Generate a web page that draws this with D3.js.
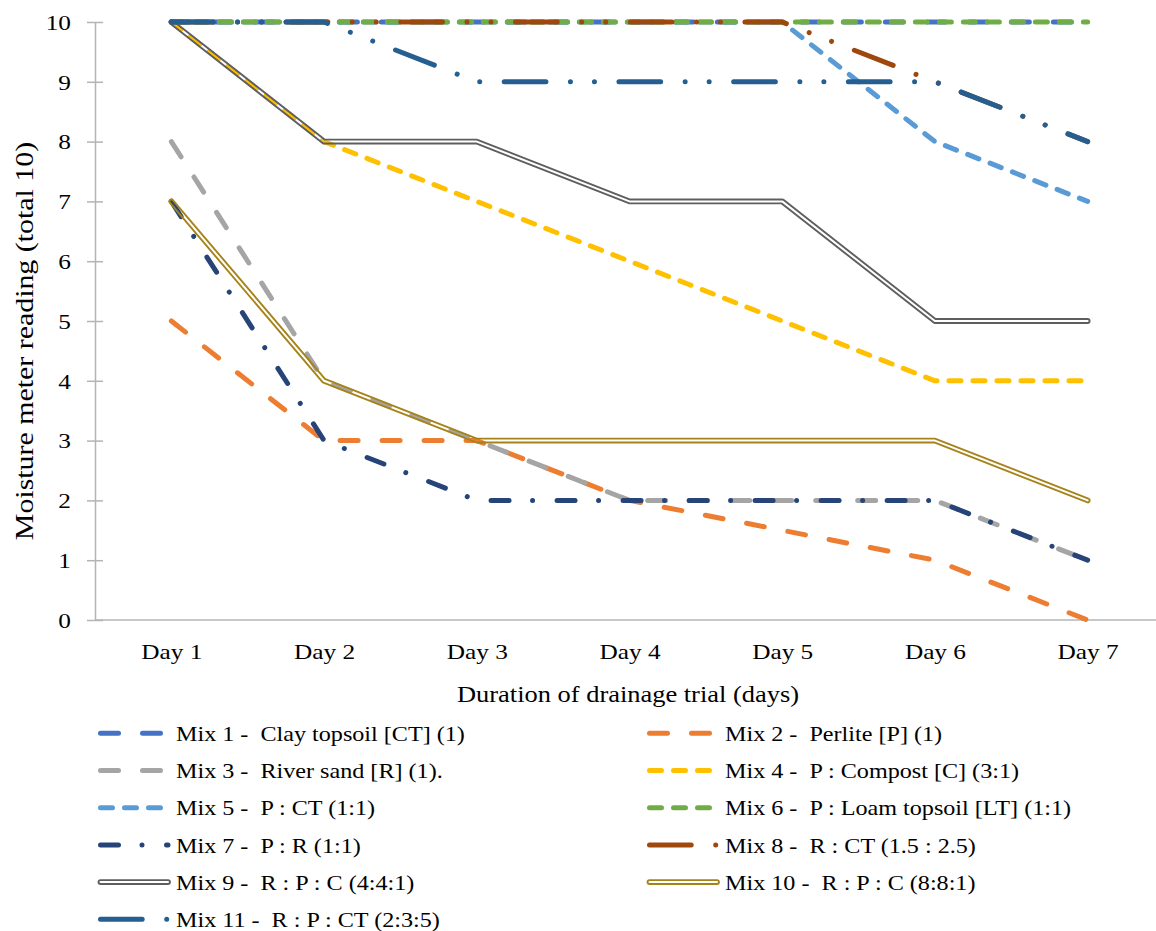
<!DOCTYPE html>
<html>
<head>
<meta charset="utf-8">
<script src="https://cdn.jsdelivr.net/npm/d3@7"></script>
<style>
  body { margin: 0; background: #fff; }
  text { font-family: "Liberation Serif", "Times New Roman", serif; fill: #000; white-space: pre; }
</style>
</head>
<body>
<div class="chart"></div>
<script>
// DATA ------------------------------------

const days = ["Day 1", "Day 2", "Day 3", "Day 4", "Day 5", "Day 6", "Day 7"];
const yTicks = [0, 1, 2, 3, 4, 5, 6, 7, 8, 9, 10];

const mixNames = [
    "Mix 1 -  Clay topsoil [CT] (1)",
    "Mix 2 -  Perlite [P] (1)",
    "Mix 3 -  River sand [R] (1).",
    "Mix 4 -  P : Compost [C] (3:1)",
    "Mix 5 -  P : CT (1:1)",
    "Mix 6 -  P : Loam topsoil [LT] (1:1)",
    "Mix 7 -  P : R (1:1)",
    "Mix 8 -  R : CT (1.5 : 2.5)",
    "Mix 9 -  R : P : C (4:4:1)",
    "Mix 10 -  R : P : C (8:8:1)",
    "Mix 11 -  R : P : CT (2:3:5)"
];

const mix1  = [10, 10, 10, 10, 10, 10, 10];
const mix2  = [5, 3, 3, 2, 1.5, 1, 0];
const mix3  = [8, 4, 3, 2, 2, 2, 1];
const mix4  = [10, 8, 7, 6, 5, 4, 4];
const mix5  = [10, 10, 10, 10, 10, 8, 7];
const mix6  = [10, 10, 10, 10, 10, 10, 10];
const mix7  = [7, 3, 2, 2, 2, 2, 1];
const mix8  = [10, 10, 10, 10, 10, 9, 8];
const mix9  = [10, 8, 8, 7, 7, 5, 5];
const mix10 = [7, 4, 3, 3, 3, 3, 2];
const mix11 = [10, 10, 9, 9, 9, 9, 8];

const mixValues = [mix1, mix2, mix3, mix4, mix5, mix6, mix7, mix8, mix9, mix10, mix11];

// STYLES ----------------------------------

const colors = ["#4472C4", "#ED7D31", "#A5A5A5", "#FFC000", "#5B9BD5", "#70AD47",
                "#264478", "#9E480E", "#5E5E5E", "#A6831A", "#255E91"];
const longDash = "18,24";
const shortDash = "12,12";
const dashDot = "18,23.5,0.01,24.5";
const dashDotDot = "41.7,24.5,0.01,24,0.01,24.5";
const dashes = [longDash, longDash, longDash, shortDash, shortDash, shortDash,
                dashDot, dashDotDot, null, null, dashDotDot];
const isDouble = [false, false, false, false, false, false, false, false, true, true, false];

const STRETCH = 1.15; // text in the picture is wider than Liberation Serif

// CHART INIT ------------------------------

const W = 1156, H = 931;
const plot = {left: 95, right: 1164, top: 22, bottom: 620};

const svg = d3.select(".chart").append("svg")
    .attr("width", W)
    .attr("height", H);

const xScale = d3.scalePoint()
    .domain(days)
    .range([plot.left, plot.right])
    .padding(0.5);

const yScale = d3.scaleLinear()
    .domain([0, 10])
    .range([plot.bottom, plot.top]);

function stretched(sel, x, y, rot) {
    sel.attr("transform", "translate(" + x + "," + y + ")" + (rot ? " rotate(" + rot + ")" : "") + " scale(" + STRETCH + ",1)");
}

// y axis
const yAxis = svg.append("g")
    .attr("transform", "translate(" + plot.left + ",0)")
    .call(d3.axisLeft(yScale).tickValues(yTicks).tickSizeOuter(0).tickSizeInner(8));
yAxis.select(".domain").attr("stroke", "#b4b4b4").attr("stroke-width", 1.5);
yAxis.selectAll(".tick line").attr("x1", -8).attr("x2", 8).attr("stroke", "#b4b4b4").attr("stroke-width", 1.5);
yAxis.selectAll(".tick text")
    .attr("x", null).attr("dy", "0.33em")
    .attr("text-anchor", "end")
    .style("font-size", "22px")
    .attr("font-family", null)
    .attr("transform", "translate(-24,0) scale(" + STRETCH + ",1)");

// x axis
const xAxis = svg.append("g")
    .attr("transform", "translate(0," + plot.bottom + ")")
    .call(d3.axisBottom(xScale).tickSize(0).tickSizeOuter(0));
xAxis.select(".domain").attr("stroke", "#b4b4b4").attr("stroke-width", 1.5)
    .attr("d", "M" + plot.left + ",0H" + plot.right);
xAxis.selectAll(".tick text")
    .attr("y", null).attr("dy", null)
    .attr("font-family", null)
    .style("font-size", "22px")
    .attr("transform", "translate(0,39) scale(" + STRETCH + ",1)");

// axis titles
svg.append("text")
    .attr("text-anchor", "middle")
    .style("font-size", "23px")
    .text("Duration of drainage trial (days)")
    .call(stretched, 628, 702);

svg.append("text")
    .attr("text-anchor", "middle")
    .style("font-size", "26px")
    .text("Moisture meter reading (total 10)")
    .call(stretched, 33, 341, -90);

// LINES -----------------------------------

const line = d3.line()
    .x((d, i) => xScale(days[i]))
    .y(d => yScale(d));

const defs = svg.append("defs");

function drawSeries(parent, d, k) {
    if (isDouble[k]) {
        // compound "double" line: wide stroke with its centre masked out
        const id = "dbl" + k + parent.attr("data-tag");
        const m = defs.append("mask")
            .attr("id", id)
            .attr("maskUnits", "userSpaceOnUse")
            .attr("x", 0).attr("y", 0).attr("width", W).attr("height", H);
        m.append("rect").attr("width", W).attr("height", H).attr("fill", "#fff");
        m.append("path").attr("d", d).attr("fill", "none").attr("stroke", "#000")
            .attr("stroke-width", 2).attr("stroke-linejoin", "round").attr("stroke-linecap", "round");
        parent.append("path")
            .attr("d", d)
            .attr("fill", "none")
            .attr("stroke", colors[k])
            .attr("stroke-width", 5.8)
            .attr("stroke-linejoin", "round")
            .attr("stroke-linecap", "round")
            .attr("mask", "url(#" + id + ")");
    } else {
        parent.append("path")
            .attr("d", d)
            .attr("fill", "none")
            .attr("stroke", colors[k])
            .attr("stroke-width", 5)
            .attr("stroke-linejoin", "round")
            .attr("stroke-linecap", "round")
            .attr("stroke-dasharray", dashes[k]);
    }
}

const lines = svg.append("g").attr("data-tag", "p");
mixValues.forEach((vals, k) => drawSeries(lines, line(vals), k));

// LEGEND ----------------------------------

const legend = svg.append("g").attr("data-tag", "l");
const colX = [98, 647];
const rowY0 = 733.3, rowStep = 37.2;

mixNames.forEach((name, k) => {
    const col = k % 2, row = Math.floor(k / 2);
    const x0 = colX[col], cy = rowY0 + row * rowStep;
    drawSeries(legend, "M" + (x0 + 2.5) + "," + cy + "H" + (x0 + 70), k);
    legend.append("text")
        .style("font-size", "21px")
        .text(name)
        .call(stretched, x0 + 78, cy + 7.6);
});
</script>
</body>
</html>
